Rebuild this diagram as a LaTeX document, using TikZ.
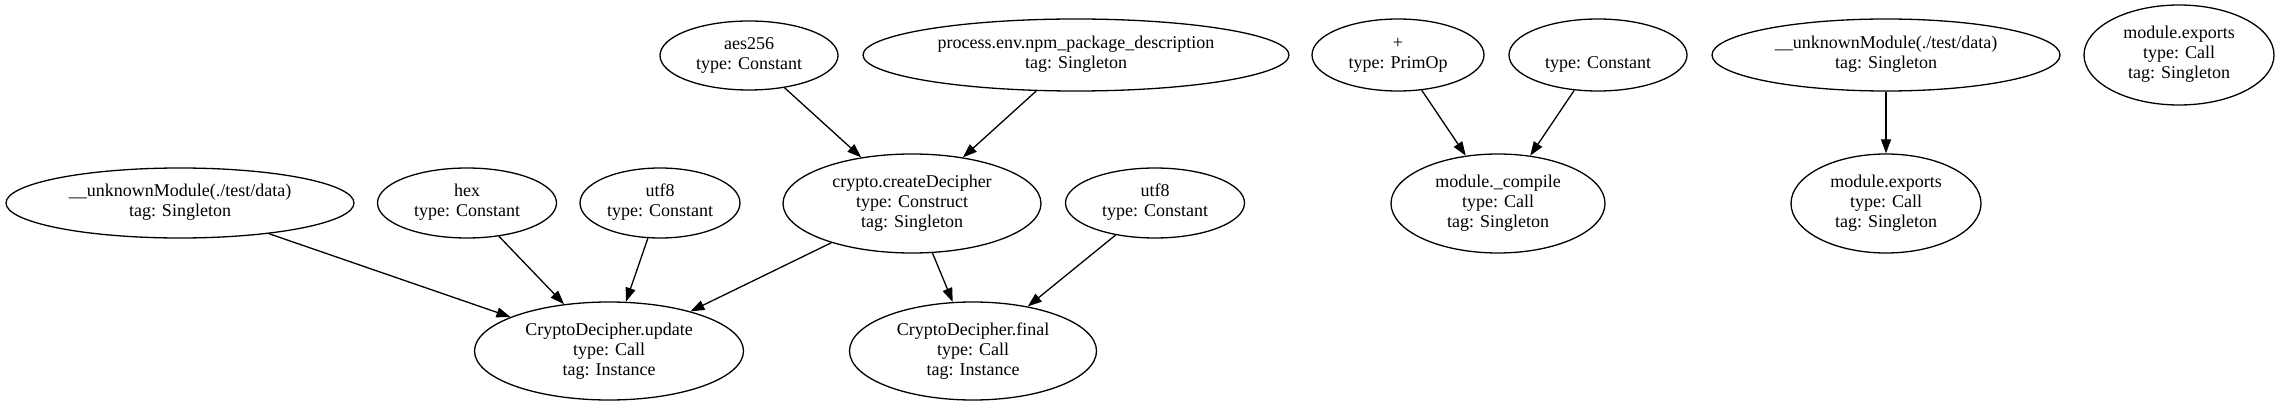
\documentclass[tikz,border=0pt]{standalone}
\usepackage{fontspec}
\setmainfont{Liberation Serif}
\usetikzlibrary{shapes.geometric,arrows.meta}
\newcommand{\gvtext}[1]{\makebox[0pt][c]{\fontsize{18}{20}\selectfont\begin{tabular}{@{}c@{}}#1\end{tabular}}}
\tikzset{
  gv/.style n args={2}{ellipse, draw, line width=1.3pt, inner sep=0pt, minimum width=#1pt, minimum height=#2pt},
  gvedge/.style={line width=1.3pt, -{Triangle[length=14pt,width=10pt]}}
}
\begin{document}
\begin{tikzpicture}[x=1pt,y=-1pt]
\useasboundingbox (0,0) rectangle (2280,406);
% top row
\node[gv={178}{69}] (aes) at (749,55.5) {\gvtext{aes256\\type: Constant}};
\node[gv={426}{72}] (proc) at (1076,55) {\gvtext{process.env.npm\_package\_description\\tag: Singleton}};
\node[gv={172}{72}] (plus) at (1398,55) {\gvtext{+\\type: PrimOp}};
\node[gv={178}{72}] (const) at (1598,55) {\gvtext{\\type: Constant}};
\node[gv={348}{72}] (unkT) at (1886,55) {\gvtext{\_\_unknownModule(./test/data)\\tag: Singleton}};
\node[gv={190}{100}] (expT) at (2179,55) {\gvtext{module.exports\\type: Call\\tag: Singleton}};
% middle row
\node[gv={348}{70}] (unkL) at (180,203) {\gvtext{\_\_unknownModule(./test/data)\\tag: Singleton}};
\node[gv={179}{70}] (hex) at (467,203) {\gvtext{hex\\type: Constant}};
\node[gv={160}{70}] (utfA) at (660,203) {\gvtext{utf8\\type: Constant}};
\node[gv={258}{99}] (create) at (912,203.5) {\gvtext{crypto.createDecipher\\type: Construct\\tag: Singleton}};
\node[gv={179}{70}] (utfB) at (1155,203) {\gvtext{utf8\\type: Constant}};
\node[gv={214}{99}] (compile) at (1498,203.5) {\gvtext{module.\_compile\\type: Call\\tag: Singleton}};
\node[gv={190}{99}] (expM) at (1886,203.5) {\gvtext{module.exports\\type: Call\\tag: Singleton}};
% bottom row
\node[gv={269}{98}] (update) at (609,351) {\gvtext{CryptoDecipher.update\\type: Call\\tag: Instance}};
\node[gv={247}{98}] (final) at (973,351) {\gvtext{CryptoDecipher.final\\type: Call\\tag: Instance}};
% edges
\draw[gvedge] (aes) -- (create);
\draw[gvedge] (proc) -- (create);
\draw[gvedge] (plus) -- (compile);
\draw[gvedge] (const) -- (compile);
\draw[gvedge] (unkT) -- (expM);
\draw[gvedge] (unkL) -- (update);
\draw[gvedge] (hex) -- (update);
\draw[gvedge] (utfA) -- (update);
\draw[gvedge] (create) -- (update);
\draw[gvedge] (create) -- (final);
\draw[gvedge] (utfB) -- (final);
\end{tikzpicture}
\end{document}
